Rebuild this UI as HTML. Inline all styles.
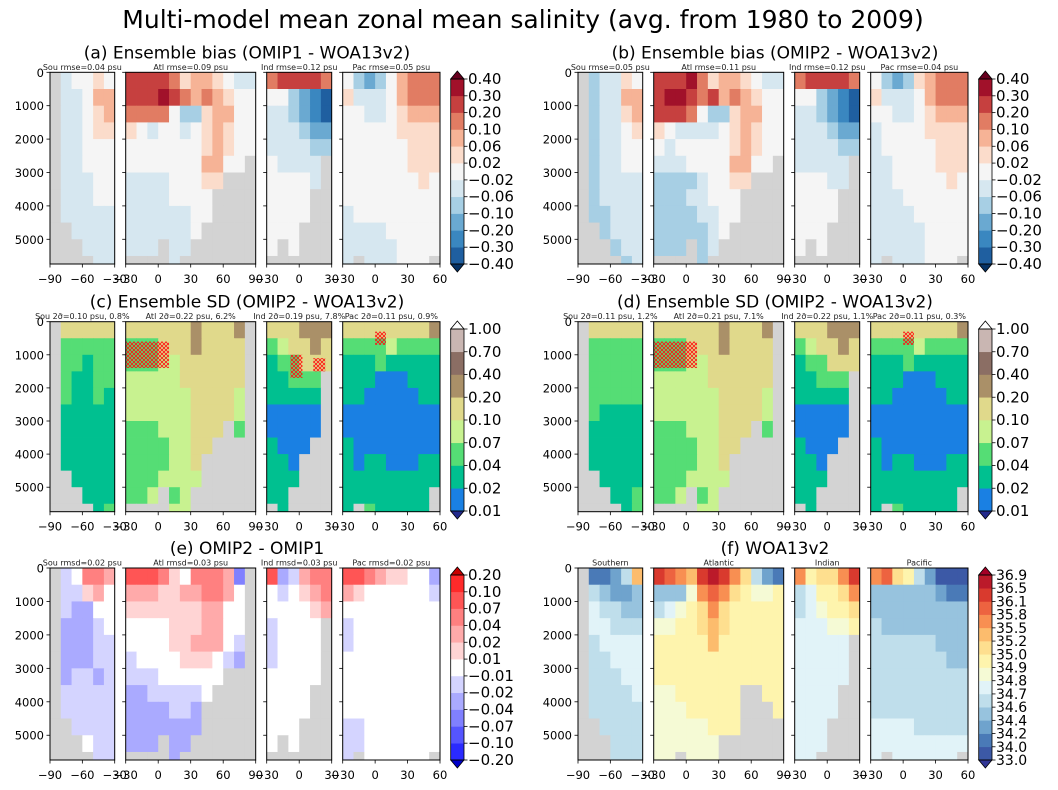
<!DOCTYPE html>
<html><head><meta charset="utf-8"><style>
html,body{margin:0;padding:0;background:#fff;}
svg{display:block;font-family:"DejaVu Sans","Liberation Sans",sans-serif;}
</style></head><body>
<svg id="fig" width="1058" height="790" viewBox="0 0 1058 790" xmlns="http://www.w3.org/2000/svg">
<defs>
<pattern id="hatchR" width="4" height="4" patternUnits="userSpaceOnUse"><path d="M0,0L4,4M4,0L0,4" stroke="#ff1010" stroke-width="0.8"/></pattern>
</defs>
<text x="523" y="28" font-size="25" text-anchor="middle">Multi-model mean zonal mean salinity (avg. from 1980 to 2009)</text>
<g id="root"></g>
</svg>
<script>
// ---- data: color-bin index per 10deg x 500m cell; '.' = land. Sou|Atl|Ind|Pac ----
const binsA=[".56676|aaaa97887655|9aaaa9|643468999",".55688|aaaba9898766|664321|755568999",".55678|999964478866|554321|665567888",".55677|765665678766|555433|666667777",".55666|666666678766|555544|666666777",".55666|66666668866.|65555.|666666777",".55566|555566677...|66665.|666666676",".55566|55556666....|6666..|666666666",".55555|55555566....|6666..|566666666","..5555|5555556.....|666...|555566666","...555|555.55......|6.6...|555556666","....55|....5.......|......|5.555666."];
const binsB=[".45576|aaab97887655|9aaaa9|643478999",".45588|abba9a898766|664321|755568999",".45578|aaa964478866|554321|665567888",".45567|765555678766|555433|566667777",".45566|656666678766|555544|566666777",".45566|55566668866.|55555.|556666777",".45555|444456677...|66655.|556666676",".45555|44455666....|6666..|555666666",".44555|44445566....|6666..|555566666","..4555|4444456.....|666...|555556666","...455|444.45......|6.6...|555556666","....45|....4.......|......|5.555666."];
const binsC=[".55555|55555565556.|555666|555555556",".33333|33355565555.|345565|333343333",".33233|33344555555.|233555|222322222",".32233|44444555555.|22333.|222111222",".32232|44444455554.|22222.|221111122",".22222|44444455554.|11111.|111111111",".22222|333444555.3.|11111.|111111111",".22222|33334455....|2111..|211111111",".22222|3333445.....|221...|212211122","..2222|3334444.....|222...|222222222","...222|334.34......|22....|22222222.","....23|....44......|.2....|2.322222."];
const binsD=[".55555|55555565556.|555666|555555556",".33333|33355565555.|345565|333343333",".33333|33344555555.|233555|222322222",".33333|44444555555.|22333.|222111222",".33333|44444455554.|22222.|221111122",".32222|44444455554.|11111.|111111111",".22222|333444555.3.|11111.|111111111",".22222|33334455....|2111..|211111111",".22222|3333445.....|221...|212211122","..2222|3334444.....|222...|222222222","...223|334.34......|22....|22222222.","....23|....44......|.2....|2.322222."];
const binsE=[".56998|aaa97699983.|a45899|aa9877664",".55786|88877889986.|656789|876666665",".54466|77777778866.|666678|666666666",".44456|66667778866.|56666.|566666666",".44455|66667788865.|56666.|566666666",".44455|56666777654.|56666.|666666666",".45545|555666666...|66666.|666666666",".55555|44555556....|6666..|666666666",".55555|4444554.....|6666..|666666666","..5555|4444444.....|666...|556666666","...655|444.44......|6.6...|556666666","....55|....4.......|......|5.666666."];
const binsF=[".2235a|dcbadedb9532|b899bd|bc9853111",".54334|4447bcb98778|56889b|444444322",".65544|56789b988888|567889|444444444",".66555|77889a988888|666778|544444444",".56666|88888a888888|66666.|555555444",".55666|888888888888|66666.|555555544",".55566|888888888888|66666.|555555555",".55556|77888888..88|6666..|555555555",".55555|77788888...8|6666..|555555555","..5555|77777888....|666...|666655555","...555|777777......|666...|666666666","...555|77.777......|66....|6.666666."];
// colorbar boundaries (tick labels)
const ticksA=["-0.40","-0.30","-0.20","-0.10","-0.06","-0.02","0.02","0.06","0.10","0.20","0.30","0.40"];
const ticksC=["0.01","0.02","0.04","0.07","0.10","0.20","0.40","0.70","1.00"];
const ticksE=["-0.20","-0.10","-0.07","-0.04","-0.02","-0.01","0.01","0.02","0.04","0.07","0.10","0.20"];
const ticksF=["33.0","34.0","34.2","34.4","34.6","34.7","34.8","34.9","35.0","35.2","35.5","35.8","36.1","36.5","36.9"];
// hatched (non-robust) regions: [basin, lat0, lat1, depth0, depth1]
const hatchC=[[1,-30,10,600,1400],[2,-8,3,1000,1700],[2,13,24,1100,1500],[3,0,10,300,700]];
const hatchD=[[1,-30,10,600,1400],[3,0,10,300,700]];
const depthTicks=[0,1000,2000,3000,4000,5000];
const basinTicks=[[-90,-60,-30],[-30,0,30,60,90],[-30,0,30],[-30,0,30,60]];

const cmapRdBu=["#063264","#1f5fa0","#3a87c0","#6aa9d1","#a7cfe4","#d6e7f0","#f5f5f5","#fbdccb","#f6b396","#e17c63","#c6403f","#a1112a","#67001f"];
const cmapSD=["#232a8c","#1a80e3","#00c090","#55dd75","#c8f290","#e0d98b","#aa9068","#8b6e64","#c9b6b2","#ffffff"];
const cmapBwr=["#0000c8","#2a2aff","#5555ff","#8080ff","#aaaaff","#d4d4ff","#ffffff","#ffd4d4","#ffaaaa","#ff8080","#ff5555","#ff2a2a","#c80000"];
const cmapF=["#313695","#3c59a6","#4a7ab7","#6fa3cd","#97c3de","#bfdeeb","#e1f3f8","#f5fad5","#fef4ad","#fedf8f","#fcbc6d","#f88f52","#ed6340","#d93a2e","#bb1a2a","#a50026"];

const basinLat=[[-90,-30],[-30,90],[-30,30],[-30,60]];
const basinX=[[50,114.7],[125.7,255.7],[266.7,331.7],[342.7,440]];
const rowTop=[72.3,321.7,568], rowBot=[264,511.7,760];
const cbTop=[79,329,575], cbBot=[264,511,760];
const MAXD=5740;
const NS="http://www.w3.org/2000/svg";
const root=document.getElementById('root');
function mk(tag,attrs,parent){const e=document.createElementNS(NS,tag);for(const k in attrs)e.setAttribute(k,attrs[k]);(parent||root).appendChild(e);return e;}
const basinNames=["sou","atl","ind","pac"];

function panel(key,row,dx,bins,cmap,subs,title,ticks,hatch){
  const g=mk('g',{});
  
  
  const y0=rowTop[row],y1=rowBot[row];
  const yS=d=>y0+(y1-y0)*d/MAXD;
  for(let b=0;b<4;b++){
    const [lo,hi]=basinLat[b];const xa=basinX[b][0]+dx,xb=basinX[b][1]+dx;
    const xS=l=>xa+(xb-xa)*(l-lo)/(hi-lo);
    const sg=mk('g',{},g);
    
    
    const cid='clip'+key+b;
    const cp=mk('clipPath',{id:cid},sg);mk('rect',{x:xa,y:y0,width:xb-xa,height:y1-y0},cp);
    const cg=mk('g',{'clip-path':'url(#'+cid+')'},sg);
    mk('rect',{x:xa,y:y0,width:xb-xa,height:y1-y0,fill:'#d3d3d3'},cg);
    for(let r=0;r<bins.length;r++){
      const s=bins[r].split('|')[b];
      for(let c=0;c<s.length;c++){
        const ch=s[c];
        const l0=lo+c*10,l1=l0+10;
        const rc=mk('rect',{x:xS(l0),y:yS(r*500),width:xS(l1)-xS(l0)+0.4,height:yS((r+1)*500)-yS(r*500)+0.4,fill:ch==='.'?'#d3d3d3':cmap[parseInt(ch,36)]},cg);
        
        
      }
    }
    if(hatch){for(const h of hatch){if(h[0]!==b)continue;
      const hr=mk('rect',{x:xS(h[1]),y:yS(h[3]),width:xS(h[2])-xS(h[1]),height:yS(h[4])-yS(h[3]),fill:'url(#hatchR)'},cg);
      
      }}
    mk('rect',{x:xa,y:y0,width:xb-xa,height:y1-y0,fill:'none',stroke:'#000','stroke-width':1},sg);
    for(const d of depthTicks){const yy=yS(d);mk('line',{x1:xa-3.5,x2:xa,y1:yy,y2:yy,stroke:'#000','stroke-width':0.8},sg);
      if(b===0){const t=mk('text',{x:xa-6,y:yy+4.5,'font-size':11.5,'text-anchor':'end'},sg);t.textContent=d;
        
        }}
    for(const l of basinTicks[b]){const xx=xS(l);mk('line',{x1:xx,x2:xx,y1:y1,y2:y1+3.5,stroke:'#000','stroke-width':0.8},sg);
      const t=mk('text',{x:xx,y:y1+19,'font-size':11.5,'text-anchor':'middle'},sg);t.textContent=String(l).replace('-','\u2212');
      
      }
    const st=mk('text',{x:(xa+xb)/2,y:y0-2.5,'font-size':8,'text-anchor':'middle',fill:'#222'},sg);st.textContent=subs[b];
    
    
  }
  const tt=mk('text',{x:(basinX[0][0]+basinX[3][1])/2+dx+2,y:y0-14,'font-size':17,'text-anchor':'middle'},g);tt.textContent=title;
  
  
  const cb=mk('g',{},g);
  
  
  const cx0=450.7+dx,cx1=464+dx,ct=cbTop[row],cbb=cbBot[row];const n=ticks.length-1;const h=(cbb-ct)/n;
  for(let i=0;i<n;i++){mk('rect',{x:cx0,y:cbb-(i+1)*h,width:cx1-cx0,height:h+0.3,fill:cmap[i+1]},cb);}
  mk('polygon',{points:`${cx0},${ct} ${cx1},${ct} ${(cx0+cx1)/2},${ct-8}`,fill:cmap[n+1],stroke:'#000','stroke-width':0.8},cb);
  mk('polygon',{points:`${cx0},${cbb} ${cx1},${cbb} ${(cx0+cx1)/2},${cbb+8}`,fill:cmap[0],stroke:'#000','stroke-width':0.8},cb);
  mk('rect',{x:cx0,y:ct,width:cx1-cx0,height:cbb-ct,fill:'none',stroke:'#000','stroke-width':0.8},cb);
  const fs=n>12?14:15;
  for(let i=0;i<=n;i++){const yy=cbb-i*h;mk('line',{x1:cx1,x2:cx1+3.5,y1:yy,y2:yy,stroke:'#000','stroke-width':0.8},cb);
    const t=mk('text',{x:cx1+4,y:yy+5,'font-size':fs},cb);t.textContent=ticks[i].replace('-','\u2212');
    
    }
}
panel('a',0,0,binsA,cmapRdBu,["Sou rmse=0.04 psu","Atl rmse=0.09 psu","Ind rmse=0.12 psu","Pac rmse=0.05 psu"],"(a) Ensemble bias (OMIP1 - WOA13v2)",ticksA,null);
panel('b',0,528,binsB,cmapRdBu,["Sou rmse=0.05 psu","Atl rmse=0.11 psu","Ind rmse=0.12 psu","Pac rmse=0.04 psu"],"(b) Ensemble bias (OMIP2 - WOA13v2)",ticksA,null);
panel('c',1,0,binsC,cmapSD,["Sou 2\u03C3\u0304=0.10 psu, 0.8%","Atl 2\u03C3\u0304=0.22 psu, 6.2%","Ind 2\u03C3\u0304=0.19 psu, 7.8%","Pac 2\u03C3\u0304=0.11 psu, 0.9%"],"(c) Ensemble  SD (OMIP2 - WOA13v2)",ticksC,hatchC);
panel('d',1,528,binsD,cmapSD,["Sou 2\u03C3\u0304=0.11 psu, 1.2%","Atl 2\u03C3\u0304=0.21 psu, 7.1%","Ind 2\u03C3\u0304=0.22 psu, 1.1%","Pac 2\u03C3\u0304=0.11 psu, 0.3%"],"(d) Ensemble  SD (OMIP2 - WOA13v2)",ticksC,hatchD);
panel('e',2,0,binsE,cmapBwr,["Sou rmsd=0.02 psu","Atl rmsd=0.03 psu","Ind rmsd=0.03 psu","Pac rmsd=0.02 psu"],"(e) OMIP2 - OMIP1",ticksE,null);
panel('f',2,528,binsF,cmapF,["Southern","Atlantic","Indian","Pacific"],"(f) WOA13v2",ticksF,null);
</script>
</body></html>
